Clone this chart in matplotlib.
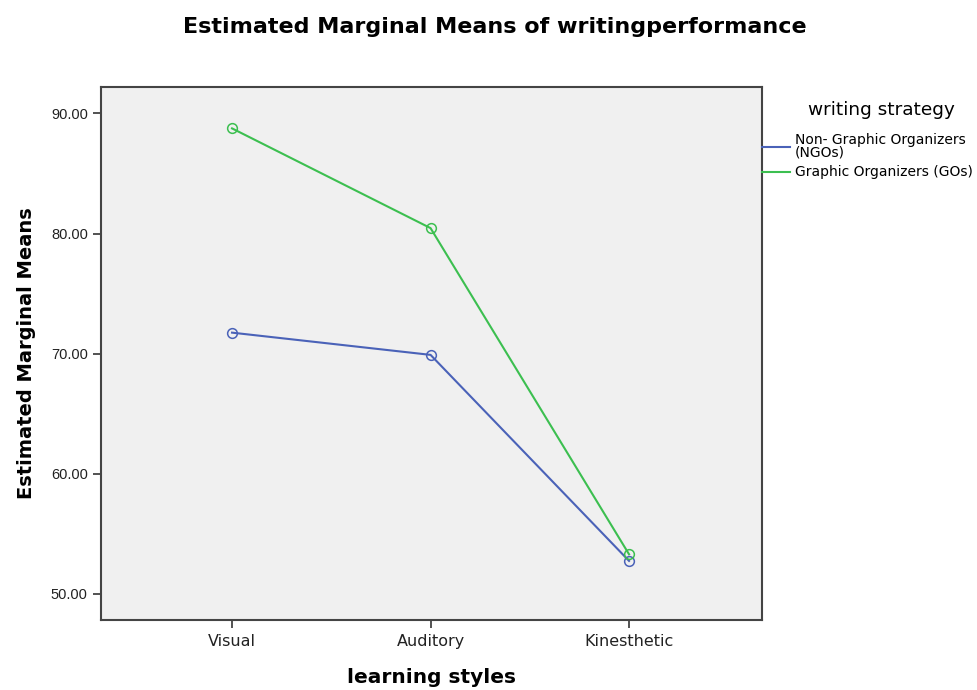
import numpy as np
import matplotlib
matplotlib.use('Agg')
import matplotlib.pyplot as plt
from matplotlib.lines import Line2D

# Estimated marginal means
styles = ['Visual', 'Auditory', 'Kinesthetic']
ngo_means = [71.75, 69.9, 52.75]
go_means = [88.75, 80.45, 53.3]
series_names = ['Non- Graphic Organizers\n(NGOs)', 'Graphic Organizers (GOs)']
yticks = [50, 60, 70, 80, 90]

BLUE = '#4a62b8'
GREEN = '#3cbf50'
AXCOL = '#444444'

plt.rcParams['font.family'] = ['Liberation Sans', 'DejaVu Sans']

fig = plt.figure(figsize=(9.77, 6.90), dpi=100)
ax = fig.add_axes([0.1034, 0.1014, 0.6766, 0.7726])
ax.set_facecolor('#f0f0f0')

xpos = np.arange(len(styles))
ax.plot(xpos, ngo_means, color=BLUE, lw=1.5, marker='o', ms=7,
        mfc='none', mec=BLUE, mew=1.1)
ax.plot(xpos, go_means, color=GREEN, lw=1.5, marker='o', ms=7,
        mfc='none', mec=GREEN, mew=1.1)

ax.set_xlim(-0.66, 2.67)
ax.set_ylim(47.83, 92.2)
ax.set_xticks(xpos)
ax.set_xticklabels(styles, family='DejaVu Sans', fontsize=11.5)
ax.set_yticks(yticks)
ax.set_yticklabels(['%.2f' % v for v in yticks])

for s in ax.spines.values():
    s.set_color(AXCOL)
    s.set_linewidth(1.5)
ax.tick_params(axis='both', colors=AXCOL, labelcolor='#222222',
               length=6, width=1.3, direction='out')
ax.tick_params(axis='y', labelsize=10.5)
ax.tick_params(axis='x', pad=4)

ax.set_xlabel('learning styles', fontsize=14.5, fontweight='bold', labelpad=14,
              family='DejaVu Sans')
ax.set_ylabel('Estimated Marginal Means', fontsize=14, fontweight='bold',
              labelpad=11, family='DejaVu Sans')
fig.text(0.506, 0.961, 'Estimated Marginal Means of writingperformance',
         ha='center', va='center', fontsize=16, fontweight='bold',
         family='DejaVu Sans')

# legend title drawn separately so its gap to the entries can be set
fig.text(0.9018, 0.8406, 'writing strategy', ha='center', va='center',
         fontsize=13.3, family='DejaVu Sans')
handles = [Line2D([], [], color=BLUE, lw=1.5), Line2D([], [], color=GREEN, lw=1.5)]
leg = ax.legend(handles, series_names, loc='upper left',
                bbox_to_anchor=(1.0, 0.914), frameon=False,
                handlelength=2.0, handletextpad=0.35, borderaxespad=0,
                borderpad=0, labelspacing=0.45,
                prop={'family': 'DejaVu Sans', 'size': 10})
for t in leg.get_texts():
    t.set_linespacing(0.85)

fig.savefig('out.png', dpi=100, facecolor='white')
